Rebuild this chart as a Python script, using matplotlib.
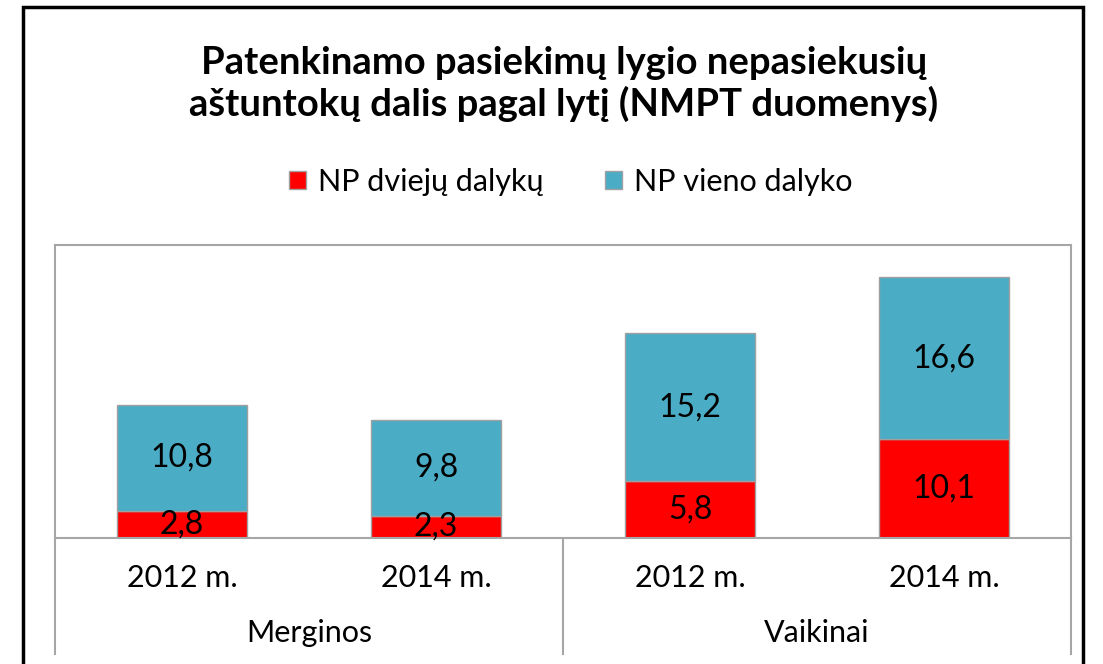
import matplotlib.pyplot as plt
from matplotlib.patches import Rectangle
import numpy as np

# duomenys
years = ['2012 m.', '2014 m.', '2012 m.', '2014 m.']
groups = ['Merginos', 'Vaikinai']
np_two = [2.8, 2.3, 5.8, 10.1]      # NP dviejų dalykų
np_one = [10.8, 9.8, 15.2, 16.6]    # NP vieno dalyko
labels_series = ['NP dviejų dalykų', 'NP vieno dalyko']

plt.rcParams['font.family'] = ['Lato', 'DejaVu Sans']

W, H = 1103, 664
fig = plt.figure(figsize=(W / 100, H / 100), dpi=100)
ax = fig.add_axes([55 / W, 1 - 538 / H, (1071 - 55) / W, (538 - 245) / H])

x = np.arange(len(years))
edge = '#A0A0A0'
b1 = ax.bar(x, np_two, width=0.51, color='#FF0000', edgecolor=edge, linewidth=1)
b2 = ax.bar(x, np_one, width=0.51, bottom=np_two, color='#4BACC6', edgecolor=edge, linewidth=1)

for bars in (b1, b2):
    for r in bars:
        h = r.get_height()
        ax.text(r.get_x() + r.get_width() / 2, r.get_y() + h / 2, f'{h:.1f}'.replace('.', ','),
                ha='center', va='center', fontsize=23, color='black')

ax.set_xlim(-0.5, 3.5)
ax.set_ylim(0, 30)
ax.set_yticks([])
ax.set_xticks([])
for s in ax.spines.values():
    s.set_color('#A6A6A6')
    s.set_linewidth(1.5)

# kategorijų ašis
trans = ax.get_xaxis_transform()
for i, t in enumerate(years):
    ax.text(i, -40 / 293, t, transform=trans, ha='center', va='center', fontsize=22)
for i, g in enumerate(groups):
    ax.text(0.5 + 2 * i, -95 / 293, g, transform=trans, ha='center', va='center', fontsize=22)
for xv in (-0.5, 1.5, 3.5):
    ax.plot([xv, xv], [0, -116 / 293], transform=trans, color='#A6A6A6', lw=1.5, clip_on=False)

fig.text(564 / W, 1 - 84 / H, 'Patenkinamo pasiekimų lygio nepasiekusių\naštuntokų dalis pagal lytį (NMPT duomenys)',
         ha='center', va='center', fontsize=27.5, fontweight='bold', linespacing=1.2)

fig.legend([b1, b2], labels_series, loc='center', bbox_to_anchor=(571 / W, 1 - 182 / H), ncol=2,
           frameon=False, fontsize=22, handlelength=0.55, handleheight=0.55, handletextpad=0.4,
           columnspacing=2.0)

# išorinis rėmelis
fig.patches.append(Rectangle((23 / W, -0.05), (1083 - 23) / W, 1.05 - 7 / H, transform=fig.transFigure,
                             fill=False, edgecolor='black', linewidth=2.5))

fig.savefig('out.png', dpi=100)
